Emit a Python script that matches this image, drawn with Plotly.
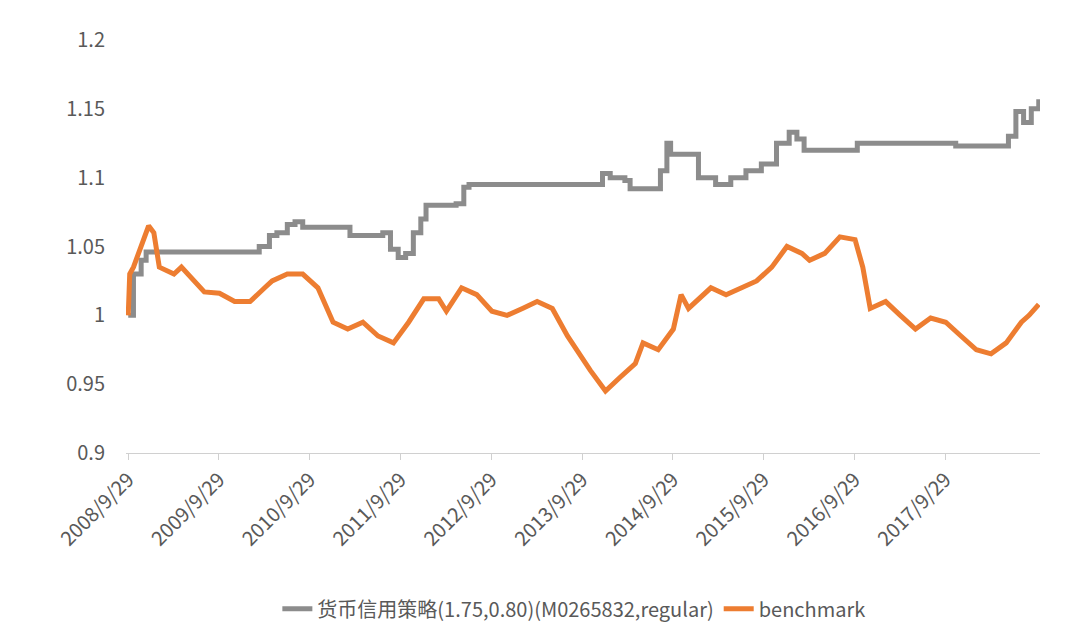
import plotly.graph_objects as go

strat_dates = ["2008-09-29","2008-10-20","2008-11-20","2008-12-10","2009-06-01","2010-02-20","2010-03-10","2010-04-20","2010-05-20","2010-07-01","2010-08-01","2010-09-01","2011-02-20","2011-03-10","2011-06-20","2011-07-20","2011-08-20","2011-09-20","2011-10-20","2011-11-20","2011-12-20","2012-01-10","2012-05-10","2012-06-10","2012-07-01","2013-12-10","2013-12-20","2014-01-20","2014-02-10","2014-03-20","2014-04-10","2014-07-20","2014-08-10","2014-09-05","2014-09-20","2014-10-20","2014-12-20","2015-01-10","2015-03-20","2015-05-20","2015-07-20","2015-09-20","2015-11-20","2016-01-10","2016-02-10","2016-03-10","2016-08-10","2016-10-10","2017-10-20","2017-11-10","2018-05-10","2018-06-10","2018-07-10","2018-08-10","2018-09-10","2018-10-10"]
strat_vals = [1.0,1.03,1.04,1.046,1.046,1.046,1.05,1.058,1.06,1.066,1.068,1.064,1.064,1.058,1.058,1.06,1.048,1.042,1.045,1.06,1.07,1.08,1.081,1.093,1.095,1.095,1.103,1.1,1.1,1.098,1.092,1.092,1.105,1.125,1.117,1.117,1.117,1.1,1.095,1.1,1.105,1.11,1.125,1.133,1.128,1.12,1.12,1.125,1.125,1.123,1.123,1.13,1.148,1.14,1.15,1.157]

bench_dates = ["2008-09-29","2008-10-05","2008-10-20","2008-11-20","2008-12-20","2009-01-10","2009-02-01","2009-04-01","2009-05-01","2009-08-01","2009-10-01","2009-12-01","2010-02-01","2010-04-01","2010-05-01","2010-07-01","2010-09-01","2010-11-01","2011-01-01","2011-03-01","2011-05-01","2011-07-01","2011-09-01","2011-11-01","2012-01-01","2012-03-01","2012-04-01","2012-06-01","2012-08-01","2012-10-01","2012-12-01","2013-02-01","2013-04-01","2013-06-01","2013-08-01","2013-11-01","2014-01-01","2014-03-01","2014-05-01","2014-06-01","2014-08-01","2014-10-01","2014-11-01","2014-12-01","2015-03-01","2015-05-01","2015-07-01","2015-09-01","2015-11-01","2016-01-01","2016-03-01","2016-04-01","2016-06-01","2016-08-01","2016-10-01","2016-11-01","2016-12-01","2017-02-01","2017-04-01","2017-06-01","2017-08-01","2017-10-01","2017-12-01","2018-02-01","2018-04-01","2018-06-01","2018-08-01","2018-09-01","2018-10-10"]
bench_vals = [1.0,1.03,1.035,1.05,1.065,1.06,1.035,1.03,1.035,1.017,1.016,1.01,1.01,1.02,1.025,1.03,1.03,1.02,0.995,0.99,0.995,0.985,0.98,0.995,1.012,1.012,1.003,1.02,1.015,1.003,1.0,1.005,1.01,1.005,0.985,0.96,0.945,0.955,0.965,0.98,0.975,0.99,1.015,1.005,1.02,1.015,1.02,1.025,1.035,1.05,1.045,1.04,1.045,1.057,1.055,1.035,1.005,1.01,1.0,0.99,0.998,0.995,0.985,0.975,0.972,0.98,0.995,1.0,1.008]

tick_dates = ["2008-09-29","2009-09-29","2010-09-29","2011-09-29","2012-09-29","2013-09-29","2014-09-29","2015-09-29","2016-09-29","2017-09-29"]
tick_text = ["2008/9/29","2009/9/29","2010/9/29","2011/9/29","2012/9/29","2013/9/29","2014/9/29","2015/9/29","2016/9/29","2017/9/29"]
y_ticks = [0.9,0.95,1.0,1.05,1.1,1.15,1.2]
y_text = ["0.9","0.95","1","1.05","1.1","1.15","1.2"]

fig = go.Figure()
fig.add_trace(go.Scatter(x=strat_dates, y=strat_vals, mode="lines",
                         name="货币信用策略(1.75,0.80)(M0265832,regular)",
                         line=dict(color="#8c8c8c", width=5, shape="hv")))
fig.add_trace(go.Scatter(x=bench_dates, y=bench_vals, mode="lines", name="benchmark",
                         line=dict(color="#ED7D31", width=5)))

fig.update_layout(
    width=1080, height=639, plot_bgcolor="white", paper_bgcolor="white",
    font=dict(family="Noto Sans CJK SC", size=20, color="#595959"),
    margin=dict(l=118, r=48, t=32, b=194),
    legend=dict(orientation="h", x=0.49, xanchor="center", y=-0.33, yanchor="top",
                font=dict(size=20)),
    xaxis=dict(range=["2008-09-20", "2018-10-15"], tickvals=tick_dates, ticktext=tick_text,
               tickangle=-45, showgrid=False, showline=True, linecolor="#d0d0d0",
               ticks="outside", tickcolor="#d0d0d0", ticklen=6),
    yaxis=dict(range=[0.9, 1.2], tickvals=y_ticks, ticktext=y_text, showgrid=False,
               zeroline=False, ticklabelstandoff=20),
)
fig.write_html("out.html")
